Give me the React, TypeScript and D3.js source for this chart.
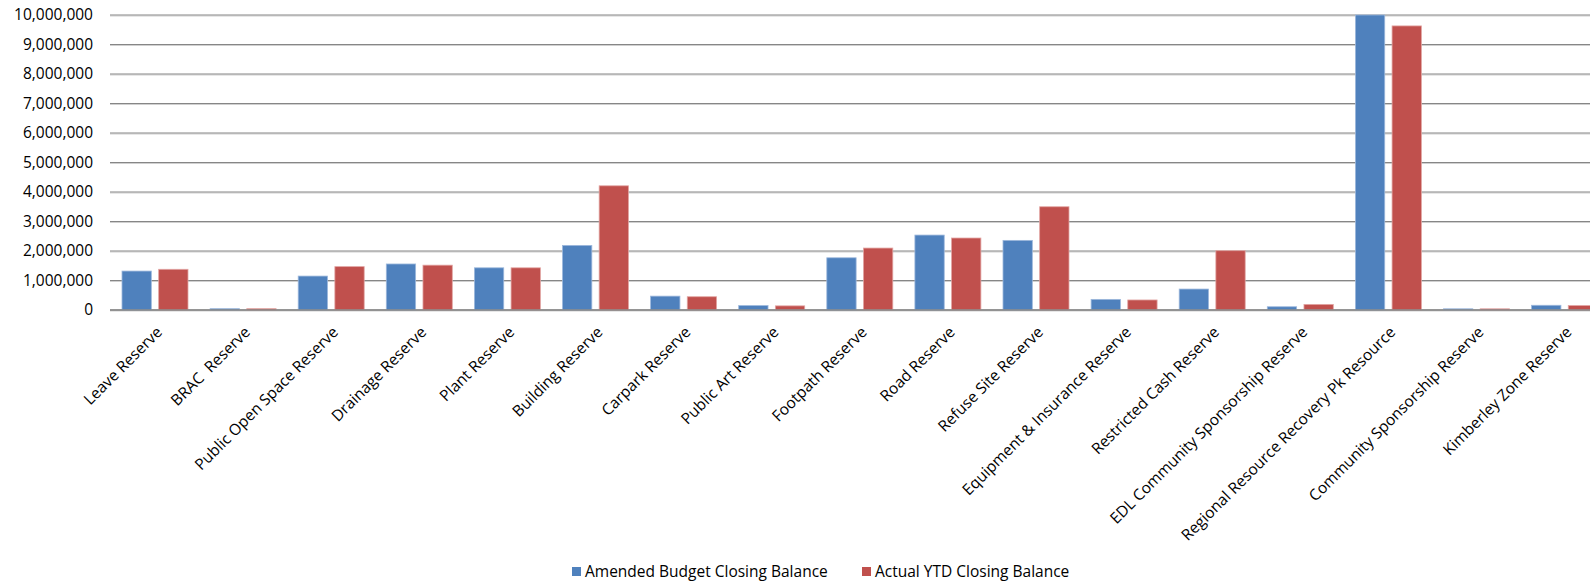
import React from "react";
import * as d3 from "d3";

const categories = [
  "Leave Reserve",
  "BRAC  Reserve",
  "Public Open Space Reserve",
  "Drainage Reserve",
  "Plant Reserve",
  "Building Reserve",
  "Carpark Reserve",
  "Public Art Reserve",
  "Footpath Reserve",
  "Road Reserve",
  "Refuse Site Reserve",
  "Equipment & Insurance Reserve",
  "Restricted Cash Reserve",
  "EDL Community Sponsorship Reserve",
  "Regional Resource Recovery Pk Resource",
  "Community Sponsorship Reserve",
  "Kimberley Zone Reserve",
];

const amendedBudget = [
  1320000, 45000, 1150000, 1560000, 1430000, 2190000, 470000, 150000, 1770000,
  2540000, 2360000, 360000, 710000, 110000, 10000000, 40000, 160000,
];

const actualYTD = [
  1380000, 45000, 1470000, 1520000, 1430000, 4210000, 450000, 140000, 2100000,
  2440000, 3500000, 340000, 2010000, 190000, 9630000, 40000, 150000,
];

const yTicks = [0, 1000000, 2000000, 3000000, 4000000, 5000000, 6000000, 7000000, 8000000, 9000000, 10000000];

const seriesNames = ["Amended Budget Closing Balance", "Actual YTD Closing Balance"];
const seriesColors = ["#4F81BD", "#C0504D"];
const seriesStrokes = ["#9DB8DC", "#E2A5A3"];

const W = 1590;
const H = 582;
const left = 110;
const step = 88.1;
const y0px = 310;
const yTopPx = 15;
const font = "'Open Sans', 'DejaVu Sans', sans-serif";
const fs = 15.5;

export default function App() {
  const x = d3
    .scaleBand<string>()
    .domain(categories)
    .range([left, left + step * categories.length])
    .padding(0);
  const x1 = d3
    .scaleBand<string>()
    .domain(["0", "1"])
    .range([12, 78])
    .paddingInner(0.2)
    .paddingOuter(0);
  const y = d3.scaleLinear().domain([0, 10000000]).range([y0px, yTopPx]);
  const fmt = d3.format(",");
  const series = [amendedBudget, actualYTD];

  return (
    <svg
      width={W}
      height={H}
      style={{ position: "absolute", left: 0, top: 0, background: "#fff" }}
      fontFamily={font}
    >
      {/* gridlines */}
      {yTicks.map((t) => (
        <g key={t}>
          <line x1={left} x2={W} y1={y(t) + 1} y2={y(t) + 1} stroke="#d0d0d0" strokeWidth={1} />
          <line x1={left} x2={W} y1={y(t)} y2={y(t)} stroke="#868686" strokeWidth={1.2} />
          <text x={93} y={y(t)} dy="0.35em" textAnchor="end" fontSize={fs} fill="#000">
            {fmt(t)}
          </text>
        </g>
      ))}
      {/* bars */}
      {series.map((vals, si) =>
        vals.map((v, i) => {
          const bx = (x(categories[i]) as number) + (x1(String(si)) as number);
          const by = y(Math.min(v, 10000000));
          return (
            <rect
              key={si + "-" + i}
              x={bx}
              y={by}
              width={x1.bandwidth()}
              height={y0px - by}
              fill={seriesColors[si]}
              stroke={seriesStrokes[si]}
              strokeWidth={0.8}
            />
          );
        })
      )}
      {/* zero axis line */}
      <line x1={left} x2={W} y1={y0px} y2={y0px} stroke="#868686" strokeWidth={1.5} />
      {/* category labels */}
      {categories.map((c) => {
        const cx = (x(c) as number) + x.bandwidth() / 2;
        return (
          <text
            key={c}
            transform={`translate(${cx + 9},${333}) rotate(-45)`}
            textAnchor="end"
            fontSize={fs}
            fill="#000"
            style={{ whiteSpace: "pre" }}
          >
            {c}
          </text>
        );
      })}
      {/* legend */}
      {seriesNames.map((n, i) => {
        const lx = [572, 862][i];
        return (
          <g key={n}>
            <rect x={lx} y={567} width={9} height={9} fill={seriesColors[i]} />
            <text x={lx + 13} y={571.5} dy="0.35em" fontSize={fs} fill="#000">
              {n}
            </text>
          </g>
        );
      })}
    </svg>
  );
}
